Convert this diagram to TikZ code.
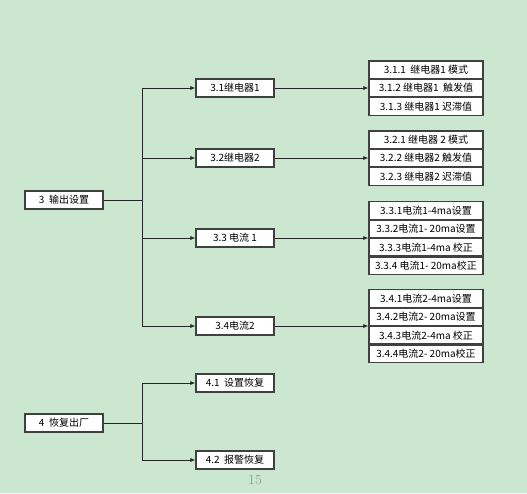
\documentclass[tikz,border=0pt]{standalone}
\usepackage{fontspec}
\newfontfamily\cjk{Noto Sans CJK SC}
\usepackage{tikz}
\usetikzlibrary{arrows.meta,positioning}
\definecolor{pagebg}{RGB}{204,231,207}

\begin{document}
\begin{tikzpicture}[x=1pt,y=-1pt,
  >={Latex[length=5pt,width=4pt]},
  box/.style={draw=black!75,line width=1.1pt,fill=white,font=\cjk\fontsize{10}{12}\selectfont,inner sep=1pt,minimum height=18pt},
  top/.style={box,minimum width=78pt},
  mid/.style={box,minimum width=78pt},
  leaf/.style={box,minimum width=114pt,minimum height=17.3pt},
  link/.style={draw=black!85,line width=0.9pt}]
\fill[pagebg] (0,0) rectangle (527,493);
\useasboundingbox (0,0) rectangle (527,493);
% level 1
\node[top] (n3) at (64,200) {3\ \ 输出设置};
\node[top] (n4) at (64,423) {4\ \ 恢复出厂};
% level 2
\node[mid] (n31) at (235,88) {3.1继电器1};
\node[mid] (n32) at (235,158) {3.2继电器2};
\node[mid] (n33) at (235,238) {3.3 电流 1};
\node[mid] (n34) at (235,326) {3.4电流2};
\node[mid] (n41) at (235,383) {4.1\ \ 设置恢复};
\node[mid] (n42) at (235,460) {4.2\ \ 报警恢复};
% level 3
\node[leaf] (n312) at (426,88) {3.1.2 继电器1\ \ 触发值};
\node[leaf,above=0pt of n312] (n311) {3.1.1\ \ 继电器1 模式};
\node[leaf,below=0pt of n312] (n313) {3.1.3 继电器1 迟滞值};
\node[leaf] (n322) at (426,158) {3.2.2 继电器2 触发值};
\node[leaf,above=0pt of n322] (n321) {3.2.1 继电器 2 模式};
\node[leaf,below=0pt of n322] (n323) {3.2.3 继电器2 迟滞值};
\node[leaf,anchor=south] (n332) at (426,238) {3.3.2电流1- 20ma设置};
\node[leaf,above=0pt of n332] (n331) {3.3.1电流1-4ma设置};
\node[leaf,below=0pt of n332] (n333) {3.3.3电流1-4ma 校正};
\node[leaf,below=0pt of n333] (n334) {3.3.4 电流1- 20ma校正};
\node[leaf,anchor=south] (n342) at (426,326) {3.4.2电流2- 20ma设置};
\node[leaf,above=0pt of n342] (n341) {3.4.1电流2-4ma设置};
\node[leaf,below=0pt of n342] (n343) {3.4.3电流2-4ma 校正};
\node[leaf,below=0pt of n343] (n344) {3.4.4电流2- 20ma校正};
% connectors
\coordinate (j3) at (142,200);
\coordinate (j4) at (142,423);
\draw[link] (n3) -- (j3);
\draw[link] (n4) -- (j4);
\foreach \c in {n31,n32,n33,n34}
  \draw[link,->] (j3) |- (\c);
\foreach \c in {n41,n42}
  \draw[link,->] (j4) |- (\c);
\draw[link,->] (n31) -- (n312);
\draw[link,->] (n32) -- (n322);
\draw[link,->] (n33) -- (n33 -| n332.west);
\draw[link,->] (n34) -- (n34 -| n342.west);
% page number
\node[text=black!40,font=\fontsize{14}{16}\selectfont] (pg) at (255,480) {15};
\end{tikzpicture}
\end{document}
